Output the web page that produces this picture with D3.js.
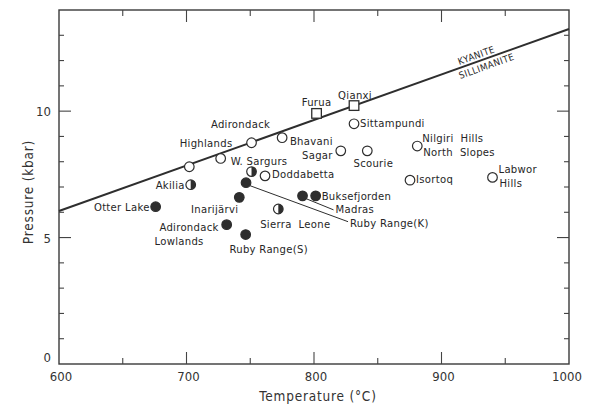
<!DOCTYPE html>
<html>
<head>
<meta charset="utf-8">
<script src="https://cdn.jsdelivr.net/npm/d3@7"></script>
<style>
  body { margin: 0; background: #fff; }
  text { font-family: "DejaVu Sans Condensed", "DejaVu Sans", sans-serif; font-stretch: condensed; fill: #262626; }
</style>
</head>
<body>
<svg id="chart" width="590" height="413"></svg>
<script>
// data
const sites = ["Otter Lake", "Akilia", "Adirondack Lowlands", "Inarijärvi", "Ruby Range(S)", "Ruby Range(K)",
  "Sierra Leone", "Madras", "Buksefjorden", "W. Sargurs", "", "Doddabetta", "Adirondack Highlands", "", "",
  "Bhavani Sagar", "Scourie", "Sittampundi", "Furua", "Qianxi", "Nilgiri Hills North Slopes", "Isortoq", "Labwor Hills"];
const temps = [675.8, 703.3, 731.5, 741.4, 746.4, 746.7, 772, 791, 801.3, 726.8, 751, 761.6, 751, 702.2, 775,
  821, 841.8, 831.4, 802, 831.4, 881, 875.3, 940];
const pressures = [6.22, 7.09, 5.51, 6.59, 5.12, 7.17, 6.13, 6.65, 6.65, 8.13, 7.61, 7.44, 8.75, 7.80, 8.95,
  8.43, 8.43, 9.50, 9.91, 10.22, 8.62, 7.27, 7.38];
const symbols = ["filled", "half", "filled", "filled", "filled", "filled", "half", "filled", "filled", "open", "half",
  "open", "open", "open", "open", "open", "open", "open", "square", "square", "open", "open", "open"];

const boundaryT = [600, 1000];
const boundaryP = [6.05, 13.25];
const xTicks = d3.range(600, 1001, 50);
const yTicks = d3.range(0, 15, 1);

// label placement, offsets in px from the symbol
const placement = {
  "Otter Lake": [["Otter Lake", -6, 0, "end"]],
  "Akilia": [["Akilia", -6, 0, "end"]],
  "Adirondack Lowlands": [["Adirondack", -8, 2, "end"], ["Lowlands", -23, 16, "end"]],
  "Inarijärvi": [["Inarijärvi", -1, 12, "end"]],
  "Ruby Range(S)": [["Ruby Range(S)", 23, 15, "middle"]],
  "Ruby Range(K)": [["Ruby Range(K)", 104, 40, "start"]],
  "Sierra Leone": [["Sierra  Leone", 17, 15, "middle"]],
  "Madras": [["Madras", 33, 13, "start"]],
  "Buksefjorden": [["Buksefjorden", 6, 0, "start"]],
  "W. Sargurs": [["W. Sargurs", 10, 3, "start"]],
  "Doddabetta": [["Doddabetta", 7, -2, "start"]],
  "Adirondack Highlands": [["Adirondack", -11, -19, "middle"], ["Highlands", -19, 0, "end"]],
  "Bhavani Sagar": [["Bhavani", -8, -10, "end"], ["Sagar", -8, 4, "end"]],
  "Scourie": [["Scourie", 6, 12, "middle"]],
  "Sittampundi": [["Sittampundi", 6, -1, "start"]],
  "Furua": [["Furua", 0, -11, "middle"]],
  "Qianxi": [["Qianxi", 1, -11, "middle"]],
  "Nilgiri Hills North Slopes": [["Nilgiri  Hills", 5, -8, "start"], ["North  Slopes", 6, 6, "start"]],
  "Isortoq": [["Isortoq", 6, -1, "start"]],
  "Labwor Hills": [["Labwor", 6, -8, "start"], ["Hills", 7, 6, "start"]]
};
const leaders = { "Ruby Range(K)": [4, 3, 102, 39], "Madras": [4, 3, 31, 14] };

const svg = d3.select("#chart");
const x = d3.scaleLinear().domain([600, 1000]).range([59, 569]);
const y = d3.scaleLinear().domain([0, 14]).range([364, 10]);
const ink = "#2e2e2e";

// frame
svg.append("rect")
  .attr("x", x(600)).attr("y", y(14))
  .attr("width", x(1000) - x(600)).attr("height", y(0) - y(14))
  .attr("fill", "none").attr("stroke", "#3a3a3a").attr("stroke-width", 1.4);

// ticks, all pointing inwards
const xt = svg.append("g").attr("stroke", "#444").attr("stroke-width", 1.1);
xTicks.slice(1, -1).forEach(t => {
  const len = t % 100 === 0 ? 12 : 6;
  xt.append("line").attr("x1", x(t)).attr("x2", x(t)).attr("y1", y(0)).attr("y2", y(0) - len);
  xt.append("line").attr("x1", x(t)).attr("x2", x(t)).attr("y1", y(14)).attr("y2", y(14) + len);
});
yTicks.slice(1, -1).forEach(p => {
  const len = p % 5 === 0 ? 12 : 5;
  xt.append("line").attr("x1", x(600)).attr("x2", x(600) + len).attr("y1", y(p)).attr("y2", y(p));
  xt.append("line").attr("x1", x(1000)).attr("x2", x(1000) - len).attr("y1", y(p)).attr("y2", y(p));
});

// tick labels
svg.append("g").selectAll("text").data(xTicks.filter(t => t % 100 === 0)).join("text")
  .attr("x", t => x(t) + (t === 1000 ? -2 : 2)).attr("y", y(0) + 17)
  .attr("text-anchor", "middle").attr("font-size", 13).style("fill", "#333")
  .text(d => d);
svg.append("g").selectAll("text").data(yTicks.filter(p => p % 5 === 0)).join("text")
  .attr("x", x(600) - 8).attr("y", p => y(p) + (p === 0 ? -2 : 5))
  .attr("text-anchor", "end").attr("font-size", 13).style("fill", "#333")
  .text(d => d);

// axis titles
svg.append("text").attr("x", 318).attr("y", 401).attr("text-anchor", "middle")
  .attr("font-size", 13.5).attr("letter-spacing", 0.8).style("fill", "#333")
  .text("Temperature  (°C)");
svg.append("text").attr("transform", "translate(33,192) rotate(-90)").attr("text-anchor", "middle")
  .attr("font-size", 13.5).attr("letter-spacing", 0.8).style("fill", "#333")
  .text("Pressure  (kbar)");

// kyanite / sillimanite boundary
svg.append("line")
  .attr("x1", x(boundaryT[0])).attr("y1", y(boundaryP[0]))
  .attr("x2", x(boundaryT[1])).attr("y2", y(boundaryP[1]))
  .attr("stroke", ink).attr("stroke-width", 2);
const ang = Math.atan2(y(boundaryP[1]) - y(boundaryP[0]), x(boundaryT[1]) - x(boundaryT[0])) * 180 / Math.PI;
const tAt = 929, pAt = boundaryP[0] + (boundaryP[1] - boundaryP[0]) * (tAt - boundaryT[0]) / (boundaryT[1] - boundaryT[0]);
const phase = svg.append("g").attr("transform", `translate(${x(tAt)},${y(pAt)}) rotate(${ang})`);
phase.append("text").attr("y", -3).attr("text-anchor", "middle").attr("font-size", 9.5)
  .attr("letter-spacing", 0.5).text("KYANITE");
phase.append("text").attr("x", 6).attr("y", 10.5).attr("text-anchor", "middle").attr("font-size", 9.5)
  .attr("letter-spacing", 0.5).text("SILLIMANITE");

// leader lines
const pts = sites.map((s, i) => ({ name: s, t: temps[i], p: pressures[i], sym: symbols[i] }));
pts.filter(d => leaders[d.name]).forEach(d => {
  const [a, b, c, e] = leaders[d.name];
  svg.append("line")
    .attr("x1", x(d.t) + a).attr("y1", y(d.p) + b).attr("x2", x(d.t) + c).attr("y2", y(d.p) + e)
    .attr("stroke", ink).attr("stroke-width", 1);
});

// symbols
const r = 4.8;
const g = svg.append("g");
pts.forEach(d => {
  const cx = x(d.t), cy = y(d.p);
  if (d.sym === "square") {
    g.append("rect").attr("x", cx - 4.8).attr("y", cy - 4.8).attr("width", 9.6).attr("height", 9.6)
      .attr("fill", "#fff").attr("stroke", ink).attr("stroke-width", 1.3);
    return;
  }
  g.append("circle").attr("cx", cx).attr("cy", cy).attr("r", r)
    .attr("fill", d.sym === "filled" ? ink : "#fff")
    .attr("stroke", ink).attr("stroke-width", 1.2);
  if (d.sym === "half") {
    g.append("path")
      .attr("d", d3.arc()({ innerRadius: 0, outerRadius: r, startAngle: 0, endAngle: Math.PI }))
      .attr("transform", `translate(${cx},${cy})`).attr("fill", ink);
  }
});

// site labels
pts.filter(d => placement[d.name]).forEach(d => {
  placement[d.name].forEach(([txt, dx, dy, anchor]) => {
    svg.append("text")
      .attr("x", x(d.t) + dx).attr("y", y(d.p) + dy).attr("dy", "0.35em")
      .attr("text-anchor", anchor).attr("font-size", 11.2).attr("letter-spacing", 0.3)
      .style("white-space", "pre")
      .text(txt);
  });
});
</script>
</body>
</html>
